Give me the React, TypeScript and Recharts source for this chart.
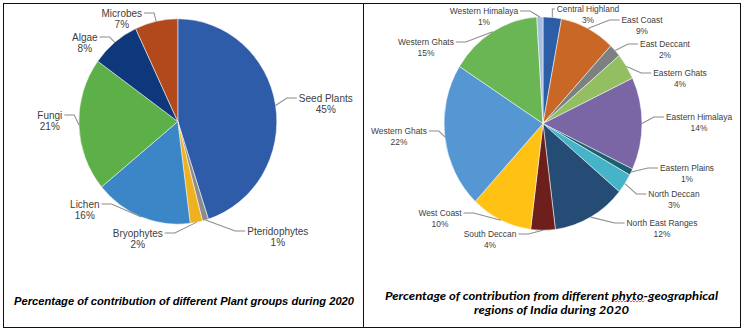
import React from 'react';
import { PieChart, Pie, Cell } from 'recharts';

// ---------- data ----------
const plantGroups = ['Seed Plants', 'Pteridophytes', 'Bryophytes', 'Lichen', 'Fungi', 'Algae', 'Microbes'];
const plantShares = [45, 1, 2, 16, 21, 8, 7];
const plantColors = ['#2E5CA8', '#8C8C8C', '#EEB120', '#3A86C6', '#5DAF47', '#0E387B', '#B2491C'];

const regionNames = [
  'Central Highland', 'East Coast', 'East Deccant', 'Eastern Ghats', 'Eastern Himalaya',
  'Eastern Plains', 'North Deccan', 'North East Ranges', 'South Deccan', 'West Coast',
  'Western Ghats', 'Western Ghats', 'Western Himalaya',
];
const regionShares = [3, 9, 2, 4, 14, 1, 3, 12, 4, 10, 22, 15, 1];
const regionColors = [
  '#2B5EA6', '#C96726', '#7C8083', '#93BE62', '#7A66A5', '#1D5F6E', '#45B3C8',
  '#244C75', '#6D1F1B', '#FEC114', '#5497D3', '#6AB655', '#A5BEE0',
];

const plantCaption = 'Percentage of contribution of different Plant groups during 2020';
const regionCaption1 = 'Percentage of contribution from different phyto-geographical';
const regionCaption2 = 'regions of India during 2020';

// ---------- label layout (offsets of each label from its pie centre) ----------
const plantLabelSpots: number[][] = [
  [148, -23.5], [100, 109.5], [-40, 111.5], [-93, 82.5], [-128, -6.5], [-93, -84.5], [-56, -108.5],
];
const regionLabelSpots: number[][] = [
  [45, -114.6], [99, -103.6], [122, -79.6], [137, -50.6], [156, -6.6], [144, 44.4], [131, 70.4],
  [119, 99.4], [-53, 110.4], [-103, 89.4], [-144, 7.4], [-117, -81.6], [-59, -112.6],
];

const plantData = plantGroups.map((name, i) => ({ name, value: plantShares[i] }));
const regionData = regionNames.map((name, i) => ({ name, value: regionShares[i] }));

const LABEL_FONT = '"Liberation Sans", Arial, sans-serif';
const PLANT_STRETCH = 1.037;
const REGION_STRETCH = 1.078;

let measureCtx: CanvasRenderingContext2D | null = null;
function textWidth(s: string, size: number): number {
  if (!measureCtx) {
    const c = document.createElement('canvas');
    measureCtx = c.getContext('2d');
  }
  if (!measureCtx) return s.length * size * 0.5;
  measureCtx.font = `${size}px ${LABEL_FONT}`;
  return measureCtx.measureText(s).width;
}

function makeLabel(
  names: string[],
  shares: number[],
  spots: number[][],
  fontSize: number,
  lineGap: number,
  stretch: number,
) {
  return (props: any) => {
    const { cx, cy, midAngle, outerRadius, index } = props;
    const a = (-midAngle * Math.PI) / 180;
    const ax = cx + outerRadius * Math.cos(a);
    const ay = cy + outerRadius * Math.sin(a);
    const [dx, dy] = spots[index];
    const lx = cx + dx;
    const ly = cy + dy / stretch;
    const half = textWidth(names[index], fontSize) / 2;
    const onRight = dx > 0;
    const tx = onRight ? lx - half - 2 : lx + half + 2;
    const kx = onRight
      ? Math.max(tx - 10, Math.min(ax, tx))
      : Math.min(tx + 10, Math.max(ax, tx));
    return (
      <g key={`lbl-${index}`}>
        <polyline
          points={`${ax},${ay} ${kx},${ly} ${tx},${ly}`}
          fill="none"
          stroke="#8C8C8C"
          strokeWidth={1}
        />
        <text
          x={lx}
          y={ly + fontSize * 0.35}
          textAnchor="middle"
          fontSize={fontSize}
          fill="#404040"
          fontFamily={LABEL_FONT}
        >
          <tspan x={lx}>{names[index]}</tspan>
          <tspan x={lx} dy={lineGap}>{`${shares[index]}%`}</tspan>
        </text>
      </g>
    );
  };
}

const plantLabel = makeLabel(plantGroups, plantShares, plantLabelSpots, 10, 11.4, PLANT_STRETCH);
const regionLabel = makeLabel(regionNames, regionShares, regionLabelSpots, 8.4, 9.6, REGION_STRETCH);

function squiggle(x0: number, x1: number, y: number): string {
  let d = `M${x0},${y}`;
  let up = true;
  for (let x = x0 + 1.5; x <= x1; x += 1.5) {
    d += ` L${x},${up ? y - 1 : y + 0.6}`;
    up = !up;
  }
  return d;
}

export default function App() {
  return (
    <div
      style={{
        position: 'absolute',
        left: 0,
        top: 0,
        width: 744,
        height: 331,
        background: '#ffffff',
        overflow: 'hidden',
      }}
    >
      <svg width={744} height={331} style={{ position: 'absolute', left: 0, top: 0 }}>
        <rect x={3.5} y={3.5} width={360} height={324} fill="none" stroke="#111" strokeWidth={1} />
        <rect x={363.5} y={3.5} width={377} height={324} fill="none" stroke="#111" strokeWidth={1} />
        <text
          x={184}
          y={304.5}
          textAnchor="middle"
          fontSize={10.5}
          fontWeight="bold"
          fontStyle="italic"
          fontFamily={LABEL_FONT}
          fill="#000"
          textLength={340}
          lengthAdjust="spacingAndGlyphs"
        >
          {plantCaption}
        </text>
        <text
          x={551.5}
          y={299.5}
          textAnchor="middle"
          fontSize={11.5}
          fontWeight="bold"
          fontStyle="italic"
          fontFamily="Lato, 'Open Sans', sans-serif"
          fill="#000"
          textLength={333}
          lengthAdjust="spacingAndGlyphs"
        >
          {regionCaption1}
        </text>
        <text
          x={551.5}
          y={313.5}
          textAnchor="middle"
          fontSize={11.5}
          fontWeight="bold"
          fontStyle="italic"
          fontFamily="Lato, 'Open Sans', sans-serif"
          fill="#000"
          textLength={155}
          lengthAdjust="spacingAndGlyphs"
        >
          {regionCaption2}
        </text>
        <path d={squiggle(613, 645, 301.5)} fill="none" stroke="#E02020" strokeWidth={0.7} />
      </svg>

      <div
        style={{
          position: 'absolute',
          left: 0,
          top: 0,
          width: 363,
          height: 331,
          transform: `scaleY(${PLANT_STRETCH})`,
          transformOrigin: '0px 121.5px',
        }}
      >
        <PieChart width={363} height={331} margin={{ top: 0, right: 0, bottom: 0, left: 0 }}>
          <Pie
            data={plantData}
            dataKey="value"
            nameKey="name"
            cx={177.8}
            cy={121.5}
            outerRadius={99}
            startAngle={90}
            endAngle={-270}
            isAnimationActive={false}
            label={plantLabel}
            labelLine={false}
            stroke="#ffffff"
            strokeWidth={0.5}
          >
            {plantData.map((d, i) => (
              <Cell key={`p-${i}`} fill={plantColors[i]} />
            ))}
          </Pie>
        </PieChart>
      </div>

      <div
        style={{
          position: 'absolute',
          left: 363,
          top: 0,
          width: 381,
          height: 331,
          transform: `scaleY(${REGION_STRETCH})`,
          transformOrigin: '0px 123.6px',
        }}
      >
        <PieChart width={381} height={331} margin={{ top: 0, right: 0, bottom: 0, left: 0 }}>
          <Pie
            data={regionData}
            dataKey="value"
            nameKey="name"
            cx={180}
            cy={123.6}
            outerRadius={99}
            startAngle={90}
            endAngle={-270}
            isAnimationActive={false}
            label={regionLabel}
            labelLine={false}
            stroke="#ffffff"
            strokeWidth={0.5}
          >
            {regionData.map((d, i) => (
              <Cell key={`r-${i}`} fill={regionColors[i]} />
            ))}
          </Pie>
        </PieChart>
      </div>
    </div>
  );
}
